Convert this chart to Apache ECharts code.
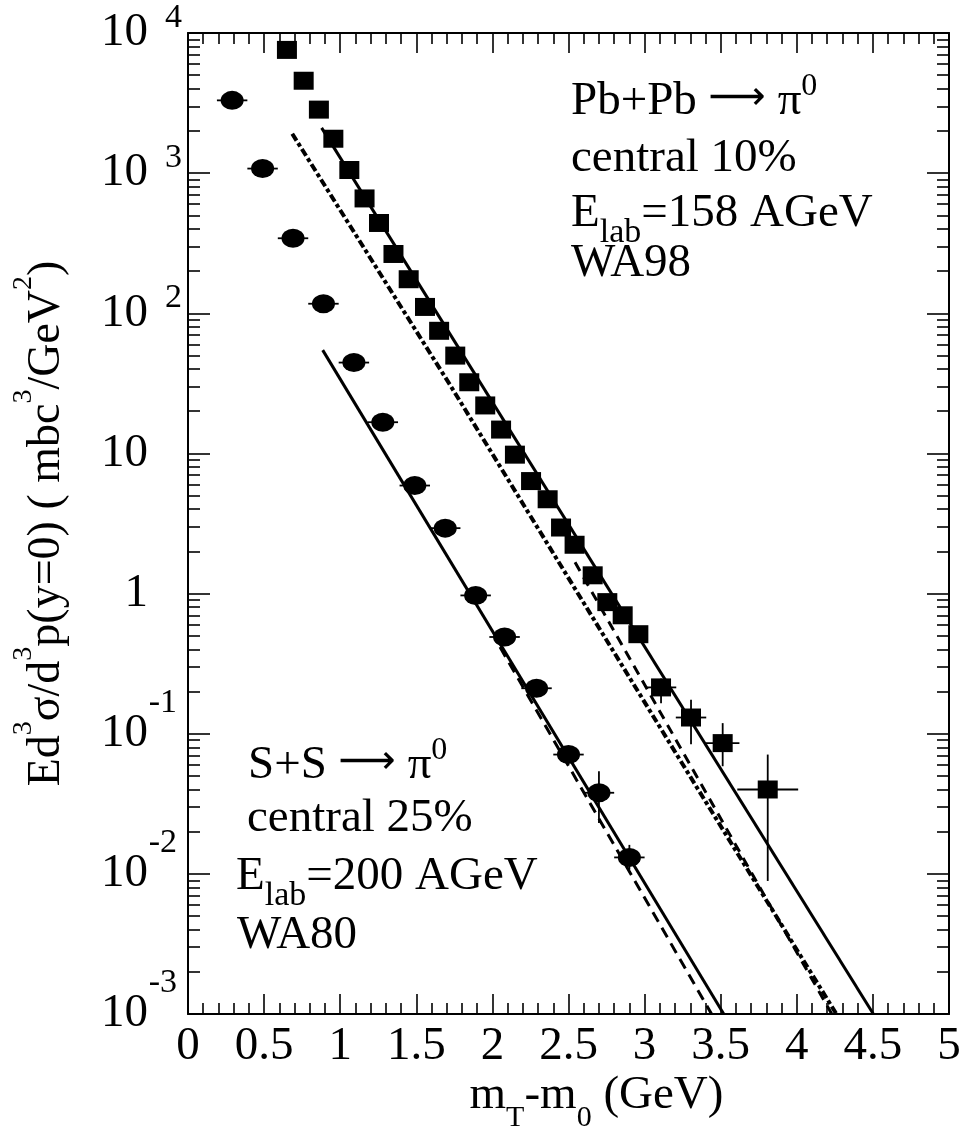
<!DOCTYPE html>
<html><head><meta charset="utf-8">
<script src="https://cdn.jsdelivr.net/npm/echarts@6/dist/echarts.min.js"></script>
<style>html,body{margin:0;padding:0;background:#fff}#c{width:966px;height:1138px}</style>
</head><body><div id="c"></div>
<script>
// ---- data ----
const ssX = [0.29,0.49,0.69,0.89,1.09,1.28,1.49,1.69,1.89,2.08,2.29,2.5,2.7,2.9];
const ssY = [3306,1078,343,117,44.5,16.7,5.9,2.93,0.97,0.49,0.211,0.071,0.0379,0.0131];
const ssXErr = [0.1,0.1,0.1,0.1,0.1,0.1,0.1,0.1,0.1,0.1,0.1,0.1,0.1,0.1];
const ssYLo = [0,0,0,0,0,0,0,0,0,0,0,0,0.0231,0.0107];
const ssYHi = [0,0,0,0,0,0,0,0,0,0,0,0,0.054,0.0161];

const pbX = [0.65,0.76,0.86,0.955,1.06,1.16,1.255,1.35,1.45,1.557,1.65,1.756,1.848,1.953,2.057,2.148,2.254,2.363,2.451,2.54,2.659,2.755,2.856,2.959,3.108,3.305,3.513,3.809];
const pbY = [7575,4564,2840,1760,1053,660,441,265,175,111,75,49.9,32.2,22.0,14.8,9.8,6.35,4.71,2.96,2.23,1.35,0.869,0.70,0.513,0.214,0.1305,0.0857,0.040];
const pbXErr = [0.05,0.05,0.05,0.05,0.05,0.05,0.05,0.05,0.05,0.05,0.05,0.05,0.05,0.05,0.05,0.05,0.05,0.05,0.05,0.05,0.05,0.05,0.05,0.05,0.1,0.1,0.11,0.2];
const pbYLo = [0,0,0,0,0,0,0,0,0,0,0,0,0,0,0,0,0,0,0,0,0,0,0,0,0.165,0.084,0.0586,0.0089];
const pbYHi = [0,0,0,0,0,0,0,0,0,0,0,0,0,0,0,0,0,0,0,0,0,0,0,0,0.248,0.175,0.119,0.071];

const ssFitSolidX = [0.885, 3.52];  const ssFitSolidY = [54.6, 0.001];
const ssFitDashX  = [2.05, 3.44];   const ssFitDashY  = [0.415, 0.001];
const pbFitSolidX = [0.878, 4.503]; const pbFitSolidY = [2105, 0.001];
const pbFitDotX   = [0.685, 1.721, 3.298, 4.26]; const pbFitDotY = [1909, 30.9, 0.0498, 0.001];
const pbFitDashX  = [2.543, 4.23];  const pbFitDashY  = [1.67, 0.001];

const xMin = 0, xMax = 5, xInterval = 0.5;
const yMin = 0.001, yMax = 10000;
const yTickExponents = [-3,-2,-1,0,1,2,3,4];

const xTitle = '{t|m}{sb|T}{t|-m}{sb|0}{t| (GeV)}';
const yTitle = '{t|Ed}{s|3}{t|σ/d}{s|3}{t|p(y=0) ( mbc}{s|3}{t|/GeV}{s|2}{t|)}';
const pbLines = ['{m|Pb+Pb }{ar|⟶}{m| π}{sp|0}', '{m|central 10%}', '{m|E}{sb|lab}{m|=158 AGeV}', '{m|WA98}'];
const ssLines = ['{m|S+S }{ar|⟶}{m| π}{sp|0}', '{m|central 25%}', '{m|E}{sb|lab}{m|=200 AGeV}', '{m|WA80}'];

// ---- build ----
const FONT = 'Liberation Serif';
const zip = (a, b) => a.map((v, i) => [v, b[i]]);
const errRows = (x, y, xe, lo, hi) => x.map((v, i) => [v, y[i], xe[i], lo[i], hi[i]]);

function yLabel(v) {
  const e = Math.round(Math.log10(v));
  if (yTickExponents.indexOf(e) < 0) return '';
  if (e === 0) return '{b|1}{ph|\u00a0}';
  if (e === 1) return '{b|10}{ph|\u00a0}';
  if (e > 0) return '{b|10}{ep|' + e + '}';
  return '{b|10}{en|' + e + '}{g|\u00a0}';
}
const yLabelRich = {
  b: {fontFamily: FONT, fontSize: 47, color: '#000', width: 48, align: 'right', verticalAlign: 'middle'},
  ph: {fontFamily: FONT, fontSize: 34, color: '#000', width: 34, align: 'right', verticalAlign: 'middle'},
  ep: {fontFamily: FONT, fontSize: 34, color: '#000', width: 34, align: 'right', verticalAlign: 'middle', padding: [0,0,30,0]},
  en: {fontFamily: FONT, fontSize: 34, color: '#000', width: 29, align: 'right', verticalAlign: 'middle', padding: [0,0,62,0]},
  g: {fontFamily: FONT, fontSize: 34, color: '#000', width: 5, align: 'right', verticalAlign: 'middle'}
};

function errorBars(params, api) {
  const x = api.value(0), y = api.value(1), xe = api.value(2), lo = api.value(3), hi = api.value(4);
  const ch = [];
  const st = {stroke: '#000', lineWidth: 1.8};
  if (xe > 0) {
    const l = api.coord([x - xe, y]), r = api.coord([x + xe, y]);
    ch.push({type: 'line', shape: {x1: l[0], y1: l[1], x2: r[0], y2: r[1]}, style: st});
  }
  if (lo > 0 && hi > 0) {
    const t = api.coord([x, hi]), b = api.coord([x, lo]);
    ch.push({type: 'line', shape: {x1: t[0], y1: t[1], x2: b[0], y2: b[1]}, style: st});
  }
  return {type: 'group', children: ch};
}

const axisLineStyle = {show: true, lineStyle: {color: '#000', width: 2}};
const xBase = {
  type: 'value', min: xMin, max: xMax, interval: xInterval,
  axisLine: Object.assign({onZero: false}, axisLineStyle),
  axisTick: {show: true, inside: true, length: 20, lineStyle: {color: '#000', width: 1.6}},
  minorTick: {show: true, splitNumber: 5, length: 11, lineStyle: {color: '#000', width: 1.6}},
  splitLine: {show: false}, minorSplitLine: {show: false}
};
const yBase = {
  type: 'log', logBase: 10, min: yMin, max: yMax,
  axisLine: Object.assign({onZero: false}, axisLineStyle),
  axisTick: {show: true, inside: true, length: 22, lineStyle: {color: '#000', width: 1.6}},
  minorTick: {show: true, splitNumber: 9, length: 12, lineStyle: {color: '#000', width: 1.6}},
  splitLine: {show: false}, minorSplitLine: {show: false}
};

const richText = {
  m: {fontFamily: FONT, fontSize: 47, fill: '#000', color: '#000', verticalAlign: 'middle'},
  ar: {fontFamily: 'DejaVu Sans', fontSize: 40, fill: '#000', color: '#000', verticalAlign: 'middle', padding: [0,0,6,0]},
  sp: {fontFamily: FONT, fontSize: 32, fill: '#000', color: '#000', verticalAlign: 'middle', padding: [0,0,30,0]},
  sb: {fontFamily: FONT, fontSize: 34, fill: '#000', color: '#000', verticalAlign: 'middle', padding: [39,0,0,0]}
};
const pbPos = [[571,102],[571,159],[571,214],[571,264]];
const ssPos = [[248,766],[247,819],[236,877],[237,936]];
const graphics = [];
pbLines.forEach((t, i) => graphics.push({type: 'text', x: pbPos[i][0], y: pbPos[i][1], silent: true,
  style: {text: t, rich: richText, align: 'left', verticalAlign: 'middle', fill: '#000', fontFamily: FONT, fontSize: 47}}));
ssLines.forEach((t, i) => graphics.push({type: 'text', x: ssPos[i][0], y: ssPos[i][1], silent: true,
  style: {text: t, rich: richText, align: 'left', verticalAlign: 'middle', fill: '#000', fontFamily: FONT, fontSize: 47}}));

const lineSeries = (x, y, type, width) => ({
  type: 'line', data: zip(x, y), symbol: 'none', showSymbol: false, silent: true, z: 2,
  lineStyle: {color: '#000', width: width, type: type, cap: 'butt', opacity: 1}
});

const option = {
  backgroundColor: '#fff',
  animation: false,
  grid: {left: 188, top: 33, right: 17, bottom: 119, containLabel: false},
  xAxis: [
    Object.assign({}, xBase, {
      position: 'bottom',
      axisLabel: {show: true, margin: 9, color: '#000', fontFamily: FONT, fontSize: 47},
      name: xTitle, nameLocation: 'middle', nameGap: 45, nameMoveOverlap: false,
      nameTextStyle: {padding: [0,0,0,56], rich: {
        t: {fontFamily: FONT, fontSize: 47, color: '#000', verticalAlign: 'middle'},
        sb: {fontFamily: FONT, fontSize: 30, color: '#000', verticalAlign: 'middle', padding: [44,0,0,0]}}}
    }),
    Object.assign({}, xBase, {position: 'top', axisLabel: {show: false}})
  ],
  yAxis: [
    Object.assign({}, yBase, {
      position: 'left',
      axisLabel: {show: true, margin: 6, formatter: yLabel, rich: yLabelRich, showMinLabel: true, showMaxLabel: true},
      name: yTitle, nameLocation: 'middle', nameRotate: 90, nameGap: 105, nameMoveOverlap: false,
      nameTextStyle: {rich: {
        t: {fontFamily: FONT, fontSize: 46, color: '#000', verticalAlign: 'middle'},
        s: {fontFamily: FONT, fontSize: 28, color: '#000', verticalAlign: 'middle', padding: [0,0,45,0]}}}
    }),
    Object.assign({}, yBase, {position: 'right', axisLabel: {show: false}})
  ],
  graphic: graphics,
  series: [
    lineSeries(ssFitSolidX, ssFitSolidY, 'solid', 3),
    lineSeries(ssFitDashX, ssFitDashY, [11, 7], 3),
    lineSeries(pbFitSolidX, pbFitSolidY, 'solid', 3),
    lineSeries(pbFitDotX, pbFitDotY, [8, 3, 4, 3], 4),
    lineSeries(pbFitDashX, pbFitDashY, [10, 7], 3),
    {type: 'custom', renderItem: errorBars, data: errRows(ssX, ssY, ssXErr, ssYLo, ssYHi), encode: {x: 0, y: 1}, silent: true, z: 3},
    {type: 'custom', renderItem: errorBars, data: errRows(pbX, pbY, pbXErr, pbYLo, pbYHi), encode: {x: 0, y: 1}, silent: true, z: 3},
    {type: 'scatter', data: zip(ssX, ssY), symbol: 'circle', symbolSize: [23, 19], itemStyle: {color: '#000', opacity: 1}, silent: true, z: 4},
    {type: 'scatter', data: zip(pbX, pbY), symbol: 'rect', symbolSize: [20, 18], itemStyle: {color: '#000', opacity: 1}, silent: true, z: 4}
  ]
};
const chart = echarts.init(document.getElementById('c'), null, {renderer: 'canvas'});
chart.setOption(option);
</script>
</body></html>
